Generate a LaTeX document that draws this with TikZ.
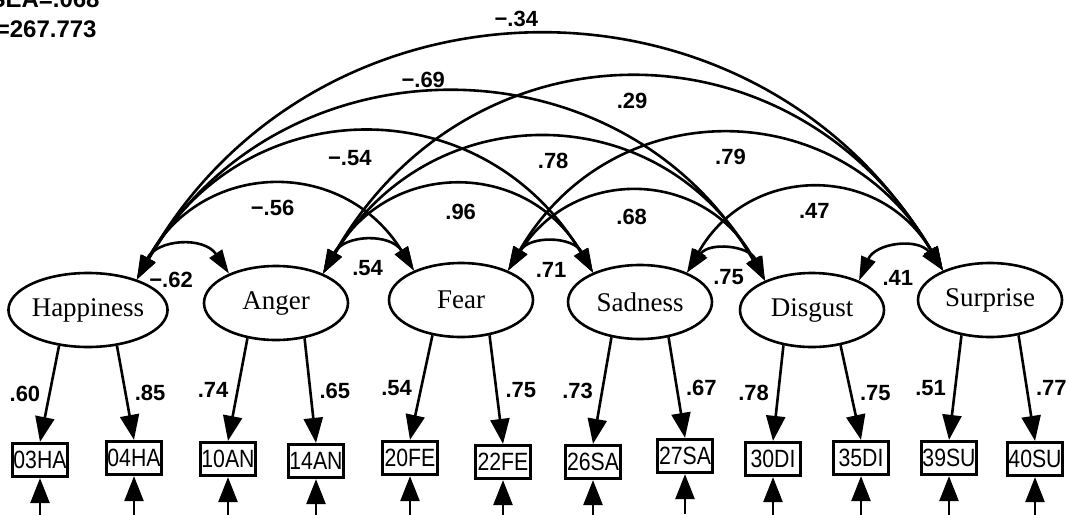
\documentclass[tikz,border=0pt]{standalone}
\usepackage{fontspec}
\setmainfont{Liberation Serif}
\setsansfont{Liberation Sans}
\newfontfamily\boxfont{Liberation Sans}[FakeStretch=0.85]
\usetikzlibrary{arrows.meta,shapes.geometric,positioning}
\tikzset{
  latent/.style={ellipse, draw, line width=1.3pt,
    minimum width=72pt, minimum height=37pt, inner sep=0pt,
    font=\fontsize{13.5}{15}\selectfont},
  item/.style={rectangle, draw, line width=1.6pt,
    minimum width=27.5pt, minimum height=16.5pt, inner sep=0pt,
    font=\boxfont\fontsize{12.5}{13}\selectfont},
  load/.style={-{Triangle[length=12.5pt,width=9.5pt]}, line width=1.3pt},
  cov/.style={{Triangle[length=12pt,width=7.5pt]}-{Triangle[length=12pt,width=7.5pt]},
    line width=1.3pt, bend left=60, looseness=#1},
  cov/.default=1.25,
  coef/.style={font=\sffamily\bfseries\fontsize{11}{12}\selectfont, inner sep=1pt},
  fit index/.style={font=\sffamily\bfseries\fontsize{12}{13}\selectfont,
    inner sep=0pt, anchor=base east}
}

\begin{document}
\begin{tikzpicture}[x=0.5pt, y=-0.5pt]
  \useasboundingbox (0,0) rectangle (1069,514);
  \clip (0,0) rectangle (1069,514);

  % fit indices, cut by the left edge
  \node[fit index] (rmsea) at (100,8) {RMSEA=.068};
  \node[fit index] (chisq) at (97,37) {χ²=267.773};

  % latent factors
  \node[latent] (hap) at (88,310) {Happiness};
  \node[latent] (ang) at (276,303) {Anger};
  \node[latent] (fea) at (461,300) {Fear};
  \node[latent] (sad) at (640,302) {Sadness};
  \node[latent] (dis) at (812,310) {Disgust};
  \node[latent] (sur) at (990,300) {Surprise};

  % observed items and their errors
  \foreach \name/\x/\y in {03HA/40/460, 04HA/134/458, 10AN/228/459, 14AN/316/461,
      20FE/410/458, 22FE/503/462, 26SA/593/462, 27SA/685/456,
      30DI/773/459, 35DI/861/458, 39SU/949/458, 40SU/1035/459} {
    \node[item] (b\name) at (\x,\y) {\name};
    \coordinate (e\name) at ([yshift=-20pt]b\name.south);
    \draw[load] (e\name) -- (b\name.south);
  }

  % loadings
  \foreach \lat/\left/\lv/\right/\rv in {hap/03HA/.60/04HA/.85, ang/10AN/.74/14AN/.65,
      fea/20FE/.54/22FE/.75, sad/26SA/.73/27SA/.67,
      dis/30DI/.78/35DI/.75, sur/39SU/.51/40SU/.77} {
    \draw[load] (\lat.-129) -- node[coef, left=3pt] {\lv} (b\left.north);
    \draw[load] (\lat.-51) -- node[coef, right=3pt] {\rv} (b\right.north);
  }

  % correlations between factors
  \draw[cov] (hap.32) to node[coef, below=11pt, xshift=-5pt] {−.62} (ang.148);
  \draw[cov] (ang.32) to node[coef, below=7pt] {.54} (fea.148);
  \draw[cov] (fea.32) to node[coef, below=7pt] {.71} (sad.148);
  \draw[cov] (sad.32) to node[coef, below=7pt] {.75} (dis.148);
  \draw[cov] (dis.32) to node[coef, below=9pt] {.41} (sur.148);

  \draw[cov] (hap.32) to node[coef, below=5pt] {−.56} (fea.148);
  \draw[cov] (ang.32) to node[coef, below=7pt, xshift=1.5pt] {.96} (sad.148);
  \draw[cov] (fea.32) to node[coef, below=6pt, xshift=-4pt] {.68} (dis.148);
  \draw[cov] (sad.32) to node[coef, below=5pt] {.47} (sur.148);

  \draw[cov=1.22] (hap.32) to node[coef, below=6pt, xshift=-6.5pt] {−.54} (sad.148);
  \draw[cov=1.22] (ang.32) to node[coef, below=5pt, xshift=3.5pt] {.78} (dis.148);
  \draw[cov=1.22] (fea.32) to node[coef, below=5pt, xshift=2.5pt] {.79} (sur.148);

  \draw[cov=1.16] (hap.32) to node[coef, above=2pt, xshift=-14pt] {−.69} (dis.148);
  \draw[cov=1.22] (ang.32) to node[coef, below=5pt] {.29} (sur.148);

  \draw[cov=1.16] (hap.32) to node[coef, above=3.5pt, xshift=-10.5pt] {−.34} (sur.148);
\end{tikzpicture}
\end{document}
